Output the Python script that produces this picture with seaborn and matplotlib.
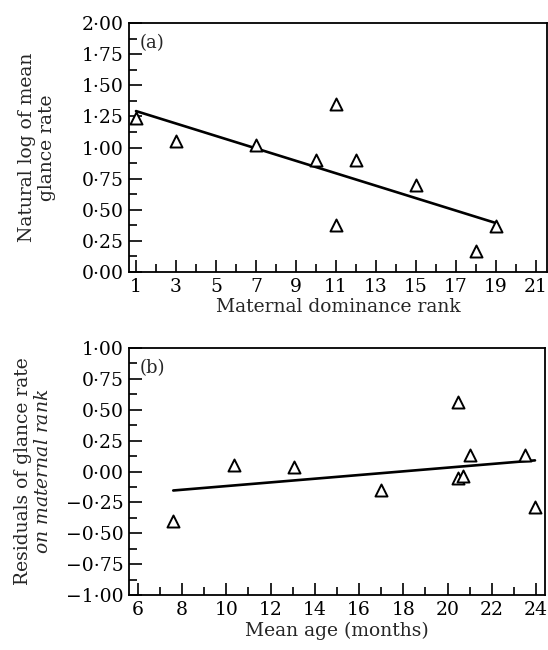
import matplotlib
matplotlib.use("Agg")
import matplotlib.pyplot as plt
from matplotlib.ticker import MultipleLocator, FuncFormatter
import seaborn as sns
import pandas as pd

# Panel (a): glance rate vs maternal dominance rank
rank = [1, 3, 7, 10, 11, 11, 12, 15, 18, 19]
log_glance = [1.24, 1.05, 1.02, 0.90, 1.35, 0.38, 0.90, 0.70, 0.17, 0.37]

# Panel (b): residuals vs mean age
age = [7.6, 10.35, 13.05, 17.0, 20.45, 20.45, 20.7, 21.0, 23.5, 23.95]
residuals = [-0.40, 0.05, 0.04, -0.15, 0.56, -0.05, -0.035, 0.13, 0.13, -0.29]

sns.set_style("ticks")
plt.rcParams['font.family'] = ['DejaVu Serif']
plt.rcParams['mathtext.fontset'] = 'dejavuserif'


def dot_fmt(v, pos):
    s = f"{abs(v):.2f}".replace('.', '\u00b7')
    if v < -1e-9:
        s = '\u2212' + s
    return s


def style_axis(ax):
    for sp in ax.spines.values():
        sp.set_visible(True)
        sp.set_linewidth(1.3)
        sp.set_color('black')
    ax.tick_params(which='both', direction='in', top=False, right=False,
                   labelsize=13.5, colors='black', width=1.2)
    ax.tick_params(which='major', length=9, pad=4)
    ax.tick_params(which='minor', length=6)
    ax.yaxis.set_major_formatter(FuncFormatter(dot_fmt))


fig = plt.figure(figsize=(5.48, 6.5), dpi=100)
ax1 = fig.add_axes([0.2354, 0.5815, 0.763, 0.383])
ax2 = fig.add_axes([0.2354, 0.0846, 0.759, 0.380])

df_a = pd.DataFrame({'rank': rank, 'log_glance': log_glance})
df_b = pd.DataFrame({'age': age, 'resid': residuals})

marker_kws = dict(s=75, facecolors='white', edgecolors='black', linewidths=1.4,
                  alpha=1.0, zorder=3)
line_kws = dict(color='black', lw=1.9, zorder=2)

sns.regplot(data=df_a, x='rank', y='log_glance', ax=ax1, ci=None, marker='^',
            scatter_kws=marker_kws, line_kws=line_kws)
ax1.set_xlim(0.65, 21.55)
ax1.set_ylim(0, 2.0)
ax1.xaxis.set_major_locator(MultipleLocator(2, offset=1))
ax1.xaxis.set_minor_locator(MultipleLocator(1))
ax1.yaxis.set_major_locator(MultipleLocator(0.25))
ax1.yaxis.set_minor_locator(MultipleLocator(0.125))
style_axis(ax1)
ax1.set_xlabel('Maternal dominance rank', fontsize=13.5, labelpad=2)
ax1.set_ylabel('Natural log of mean\nglance rate', fontsize=13.5, labelpad=18, linespacing=1.15)
ax1.text(0.025, 0.955, '(a)', transform=ax1.transAxes, fontsize=13, va='top', ha='left')

sns.regplot(data=df_b, x='age', y='resid', ax=ax2, ci=None, marker='^',
            scatter_kws=marker_kws, line_kws=line_kws)
ax2.set_xlim(5.6, 24.4)
ax2.set_ylim(-1.0, 1.0)
ax2.xaxis.set_major_locator(MultipleLocator(2))
ax2.xaxis.set_minor_locator(MultipleLocator(1))
ax2.yaxis.set_major_locator(MultipleLocator(0.25))
ax2.yaxis.set_minor_locator(MultipleLocator(0.125))
style_axis(ax2)
ax2.set_xlabel('Mean age (months)', fontsize=13.5, labelpad=2)
ax2.set_ylabel('Residuals of glance rate\n$\\it{on\\ maternal\\ rank}$', fontsize=13.5,
               labelpad=10, linespacing=1.15)
ax2.text(0.025, 0.955, '(b)', transform=ax2.transAxes, fontsize=13, va='top', ha='left')

fig.savefig('out.png', dpi=100)
